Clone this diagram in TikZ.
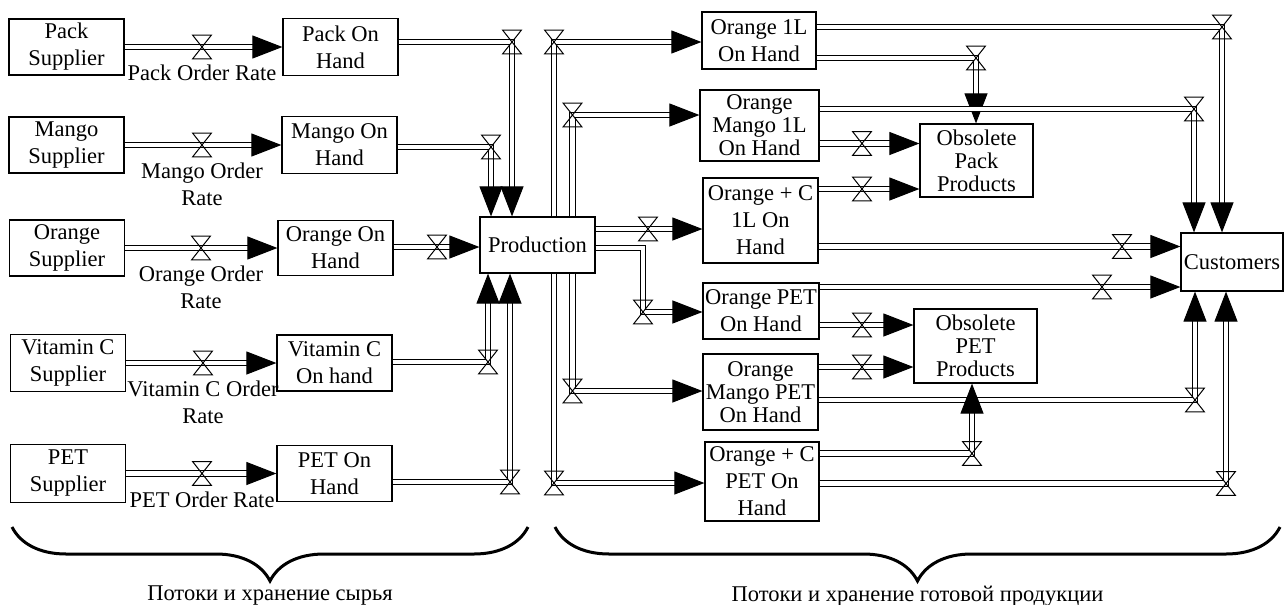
\documentclass[tikz,border=0pt]{standalone}
\usepackage{fontspec}
\setmainfont{Liberation Serif}
\usetikzlibrary{arrows.meta, positioning, decorations.pathreplacing}

\begin{document}
\begin{tikzpicture}[
    x=0.5pt, y=-0.5pt,
    box/.style={rectangle, draw, line width=0.6pt, inner sep=1pt, align=center, font=\fontsize{11.25}{13.5}\selectfont},
    tight/.style={font=\fontsize{11.25}{11.5}\selectfont},
    dims/.style 2 args={minimum width=#1*0.5pt, minimum height=#2*0.5pt},
    pipe/.style={double, double distance=2.2pt, line width=0.5pt},
    flow/.style={pipe, -{Triangle[length=15pt, width=11.5pt]}},
    valve/.style={inner sep=0pt, minimum width=9pt, minimum height=11.5pt},
    rate/.style={align=center, inner sep=1pt, font=\fontsize{11.25}{13.5}\selectfont},
    part/.style={inner sep=0pt, font=\fontsize{11.25}{13.5}\selectfont},
    bracket/.style={decorate, decoration={brace, amplitude=27pt}, line width=1.5pt}
]
\useasboundingbox (0,0) rectangle (1285,605);

% suppliers and raw stocks
\node[box, dims={115}{56}] (packS) at (66.5,47) {Pack\\Supplier};
\node[box, dims={115}{56}] (mangoS) at (66.5,145) {Mango\\Supplier};
\node[box, dims={115}{56}] (orangeS) at (67,248) {Orange\\Supplier};
\node[box, dims={115}{57}] (vitS) at (68,363) {Vitamin C\\Supplier};
\node[box, dims={115}{58}] (petS) at (68,473.5) {PET\\Supplier};
\node[box, dims={115}{57}] (packH) at (340.5,47) {Pack On\\Hand};
\node[box, dims={115}{57}] (mangoH) at (339.5,145) {Mango On\\Hand};
\node[box, dims={115}{55}] (orangeH) at (335.5,248) {Orange On\\Hand};
\node[box, dims={115}{56}] (vitH) at (334.5,363) {Vitamin C\\On hand};
\node[box, dims={115}{56}] (petH) at (334.5,473.5) {PET On\\Hand};

\node[valve] (vPack) at (202,47) {};
\node[valve] (vMango) at (202,145) {};
\node[valve] (vOrange) at (201,248) {};
\node[valve] (vVit) at (203,363) {};
\node[valve] (vPet) at (202,473.5) {};
\node[rate, below=2pt of vPack] (rPack) {Pack Order Rate};
\node[rate, below=2pt of vMango] (rMango) {Mango Order\\Rate};
\node[rate, below=2pt of vOrange] (rOrange) {Orange Order\\Rate};
\node[rate, below=2pt of vVit] (rVit) {Vitamin C Order\\Rate};
\node[rate, below=2pt of vPet] (rPet) {PET Order Rate};

% production
\node[box, dims={115}{56}] (prod) at (537.5,245) {Production};
\node[valve] (uPack) at (512,42) {};
\node[valve] (uMango) at (491,147) {};
\node[valve] (uOrange) at (437,247) {};
\node[valve] (uVit) at (488,362) {};
\node[valve] (uPet) at (510,482) {};

% finished goods
\node[box, dims={114}{57}] (o1L) at (759,40.5) {Orange 1L\\On Hand};
\node[box, tight, dims={119}{71}] (om1L) at (759.5,125.5) {Orange\\Mango 1L\\On Hand};
\node[box, dims={115}{85}] (oc1L) at (760.5,220.5) {Orange + C\\1L On\\Hand};
\node[box, dims={114}{56}] (oPET) at (761,311) {Orange PET\\On Hand};
\node[box, tight, dims={115}{76}] (omPET) at (760.5,392) {Orange\\Mango PET\\On Hand};
\node[box, dims={114}{79}] (ocPET) at (762,481.5) {Orange + C\\PET On\\Hand};
\node[valve] (pO1L) at (554,42) {};
\node[valve] (pOM1L) at (572.5,115) {};
\node[valve] (pOC1L) at (648,229) {};
\node[valve] (pOPET) at (643,312) {};
\node[valve] (pOMPET) at (572.5,391) {};
\node[valve] (pOCPET) at (554,483) {};
\coordinate (bendPET) at (643,248);

% sinks
\node[box, tight, dims={113}{73}] (obsPack) at (976.5,160.5) {Obsolete\\Pack\\Products};
\node[box, tight, dims={123}{74}] (obsPET) at (975.5,346) {Obsolete\\PET\\Products};
\node[box, dims={102}{58}] (cust) at (1232,262) {Customers};
\node[valve] (sA) at (1222,27) {};
\node[valve] (sB) at (976,58) {};
\node[valve] (sC) at (1194,109) {};
\node[valve] (sD) at (862,143.5) {};
\node[valve] (sE) at (862,189) {};
\node[valve] (sF) at (1122,246.5) {};
\node[valve] (sG) at (1102,287) {};
\node[valve] (sH) at (862,325) {};
\node[valve] (sI) at (862,367) {};
\node[valve] (sJ) at (1195,400) {};
\node[valve] (sK) at (972,453.5) {};
\node[valve] (sL) at (1226,483.5) {};

% pipes
\draw[flow] (packS) -- (packH);
\draw[flow] (mangoS) -- (mangoH);
\draw[flow] (orangeS) -- (orangeH);
\draw[flow] (vitS) -- (vitH);
\draw[flow] (petS) -- (petH);
\draw[flow] (packH.east |- uPack) -- (uPack.center) -- (uPack |- prod.north);
\draw[flow] (mangoH.east |- uMango) -- (uMango.center) -- (uMango |- prod.north);
\draw[flow] (orangeH.east |- uOrange) -- (prod.west |- uOrange);
\draw[flow] (vitH.east |- uVit) -- (uVit.center) -- (uVit |- prod.south);
\draw[flow] (petH.east |- uPet) -- (uPet.center) -- (uPet |- prod.south);
\draw[flow] (prod.north -| pO1L) -- (pO1L.center) -- (o1L.west |- pO1L);
\draw[flow] (prod.north -| pOM1L) -- (pOM1L.center) -- (om1L.west |- pOM1L);
\draw[flow] (prod.east |- pOC1L) -- (oc1L.west |- pOC1L);
\draw[flow] (prod.east |- bendPET) -- (bendPET) -- (pOPET.center) -- (oPET.west |- pOPET);
\draw[flow] (prod.south -| pOMPET) -- (pOMPET.center) -- (omPET.west |- pOMPET);
\draw[flow] (prod.south -| pOCPET) -- (pOCPET.center) -- (ocPET.west |- pOCPET);
\draw[flow] (o1L.east |- sA) -- (sA.center) -- (sA |- cust.north);
\draw[flow] (o1L.east |- sB) -- (sB.center) -- (sB |- obsPack.north);
\draw[flow] (om1L.east |- sC) -- (sC.center) -- (sC |- cust.north);
\draw[flow] (om1L.east |- sD) -- (obsPack.west |- sD);
\draw[flow] (oc1L.east |- sE) -- (obsPack.west |- sE);
\draw[flow] (oc1L.east |- sF) -- (cust.west |- sF);
\draw[flow] (oPET.east |- sG) -- (cust.west |- sG);
\draw[flow] (oPET.east |- sH) -- (obsPET.west |- sH);
\draw[flow] (omPET.east |- sI) -- (obsPET.west |- sI);
\draw[flow] (omPET.east |- sJ) -- (sJ.center) -- (sJ |- cust.south);
\draw[flow] (ocPET.east |- sK) -- (sK.center) -- (sK |- obsPET.south);
\draw[flow] (ocPET.east |- sL) -- (sL.center) -- (sL |- cust.south);

% valve symbols
\foreach \v in {vPack,vMango,vOrange,vVit,vPet,uPack,uMango,uOrange,uVit,uPet,
    pO1L,pOM1L,pOC1L,pOPET,pOMPET,pOCPET,sA,sB,sC,sD,sE,sF,sG,sH,sI,sJ,sK,sL}
  \draw[line width=0.5pt] (\v.north west) -- (\v.north east) -- (\v.south west) -- (\v.south east) -- cycle;

% braces
\coordinate (rawL) at (12,527);
\coordinate (rawR) at (528,527);
\coordinate (finL) at (555,527);
\coordinate (finR) at (1280,527);
\draw[bracket] (rawR) -- (rawL);
\draw[bracket] (finR) -- (finL);
\node[part] (rawText) at (270,596) {Потоки и хранение сырья};
\node[part] (finText) at (917.5,596) {Потоки и хранение готовой продукции};
\end{tikzpicture}
\end{document}
